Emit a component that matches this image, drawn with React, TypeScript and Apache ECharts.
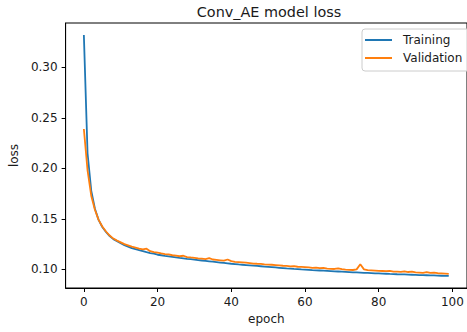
import React, { useEffect, useRef } from "react";
import * as echarts from "echarts";

const titleText = "Conv_AE model loss";
const seriesNames = ["Training", "Validation"];
const xTicks = [0, 20, 40, 60, 80, 100];
const yTicks = [0.1, 0.15, 0.2, 0.25, 0.3];

const training = [
  0.332, 0.215, 0.178, 0.16, 0.149, 0.142, 0.137, 0.133, 0.13, 0.128,
  0.126, 0.124, 0.1225, 0.121, 0.12, 0.119, 0.118, 0.117, 0.1162, 0.1155,
  0.1145, 0.114, 0.1134, 0.1129, 0.1124, 0.1119, 0.1114, 0.111, 0.1105, 0.1101,
  0.1096, 0.1092, 0.1088, 0.1084, 0.108, 0.1076, 0.1072, 0.1068, 0.1064, 0.106,
  0.1056, 0.1053, 0.1049, 0.1046, 0.1043, 0.104, 0.1037, 0.1034, 0.1031, 0.1028,
  0.1025, 0.1022, 0.1019, 0.1016, 0.1013, 0.101, 0.1008, 0.1005, 0.1003, 0.1,
  0.0998, 0.0996, 0.0993, 0.0991, 0.0989, 0.0987, 0.0985, 0.0983, 0.0981, 0.0979,
  0.0977, 0.0975, 0.0973, 0.0971, 0.097, 0.0968, 0.0966, 0.0965, 0.0963, 0.0961,
  0.096, 0.0958, 0.0957, 0.0955, 0.0954, 0.0952, 0.0951, 0.095, 0.0948, 0.0947,
  0.0946, 0.0944, 0.0943, 0.0942, 0.0941, 0.094, 0.0938, 0.0937, 0.0936, 0.0935,
];

const validation = [
  0.239, 0.198, 0.173, 0.159, 0.149, 0.1425, 0.1375, 0.1335, 0.1305, 0.1285,
  0.1268, 0.125, 0.1238, 0.1225, 0.1215, 0.1205, 0.1198, 0.1205, 0.118, 0.1172,
  0.1165, 0.1158, 0.1152, 0.1148, 0.114, 0.1136, 0.113, 0.1135, 0.1122, 0.1118,
  0.1115, 0.111, 0.1106, 0.1102, 0.1112, 0.1098, 0.1094, 0.109, 0.1086, 0.1098,
  0.1082, 0.1075, 0.1072, 0.1069, 0.1066, 0.1063, 0.1058, 0.1056, 0.1055, 0.105,
  0.1048, 0.1046, 0.1043, 0.104, 0.1036, 0.1035, 0.103, 0.1032, 0.1026, 0.1024,
  0.1022, 0.102, 0.1015, 0.1018, 0.1012, 0.1014, 0.1008, 0.1006, 0.1004, 0.101,
  0.1002, 0.0998, 0.0996, 0.0994, 0.1, 0.105, 0.1, 0.0992, 0.099, 0.0988,
  0.0986, 0.0984, 0.0982, 0.0985, 0.0978, 0.0977, 0.0975, 0.098, 0.0974, 0.0978,
  0.097, 0.0968, 0.0966, 0.0972, 0.0965, 0.0969, 0.0962, 0.096, 0.0958, 0.0955,
];

const FONT = "DejaVu Sans";
const TEXT = "#1a1a1a";

export default function App() {
  const ref = useRef<HTMLDivElement>(null);

  useEffect(() => {
    if (!ref.current) return;
    const chart = echarts.init(ref.current, null, { renderer: "svg" });

    const n = training.length;
    const xMin = 0 - 0.05 * (n - 1);
    const xMax = n - 1 + 0.05 * (n - 1);
    const all = training.concat(validation);
    const dMin = Math.min(...all);
    const dMax = Math.max(...all);
    const yMin = dMin - 0.05 * (dMax - dMin);
    const yMax = dMax + 0.05 * (dMax - dMin);

    const toPairs = (arr: number[]) => arr.map((v, i) => [i, v]);

    chart.setOption({
      animation: false,
      backgroundColor: "#ffffff",
      title: {
        text: titleText,
        left: 269,
        top: 5,
        textAlign: "center",
        padding: 0,
        textStyle: {
          fontFamily: FONT,
          fontSize: 14.4,
          fontWeight: "normal",
          color: TEXT,
        },
      },
      legend: {
        orient: "vertical",
        left: 362,
        top: 29,
        padding: [4, 8, 6, 3],
        itemGap: 4,
        itemWidth: 27,
        itemHeight: 2,
        icon: "rect",
        backgroundColor: "rgba(255,255,255,0.8)",
        borderColor: "#cccccc",
        borderWidth: 1,
        borderRadius: 3,
        data: seriesNames,
        textStyle: {
          fontFamily: FONT,
          fontSize: 12,
          lineHeight: 14,
          color: TEXT,
          padding: [0, 0, 0, 6],
        },
      },
      grid: {
        left: 64,
        top: 23,
        width: 410,
        height: 265,
        show: true,
        borderColor: "#000",
        borderWidth: 1,
        backgroundColor: "transparent",
        containLabel: false,
      },
      xAxis: {
        type: "value",
        min: xMin,
        max: xMax,
        name: "epoch",
        nameLocation: "middle",
        nameGap: 23,
        nameTextStyle: { fontFamily: FONT, fontSize: 12, color: TEXT },
        axisLine: { show: true, onZero: false, lineStyle: { color: "#000", width: 1 } },
        axisTick: {
          show: true,
          length: 4,
          customValues: xTicks,
          lineStyle: { color: "#000", width: 1 },
        },
        axisLabel: {
          customValues: xTicks,
          margin: 8,
          fontFamily: FONT,
          fontSize: 12,
          color: TEXT,
          formatter: (v: number) => String(v),
        },
        splitLine: { show: false },
      },
      yAxis: {
        type: "value",
        min: yMin,
        max: yMax,
        name: "loss",
        nameLocation: "middle",
        nameGap: 42,
        nameTextStyle: { fontFamily: FONT, fontSize: 12, color: TEXT },
        axisLine: { show: true, onZero: false, lineStyle: { color: "#000", width: 1 } },
        axisTick: {
          show: true,
          length: 4,
          customValues: yTicks,
          lineStyle: { color: "#000", width: 1 },
        },
        axisLabel: {
          customValues: yTicks,
          margin: 8,
          fontFamily: FONT,
          fontSize: 12,
          color: TEXT,
          formatter: (v: number) => v.toFixed(2),
        },
        splitLine: { show: false },
      },
      series: [
        {
          name: seriesNames[0],
          type: "line",
          data: toPairs(training),
          symbol: "none",
          lineStyle: { color: "#1f77b4", width: 1.8 },
          itemStyle: { color: "#1f77b4" },
          z: 2,
        },
        {
          name: seriesNames[1],
          type: "line",
          data: toPairs(validation),
          symbol: "none",
          lineStyle: { color: "#ff7f0e", width: 1.8 },
          itemStyle: { color: "#ff7f0e" },
          z: 3,
        },
      ],
    });

    return () => chart.dispose();
  }, []);

  return (
    <div
      ref={ref}
      style={{ position: "fixed", left: 0, top: 0, width: 467, height: 332, overflow: "hidden" }}
    />
  );
}
